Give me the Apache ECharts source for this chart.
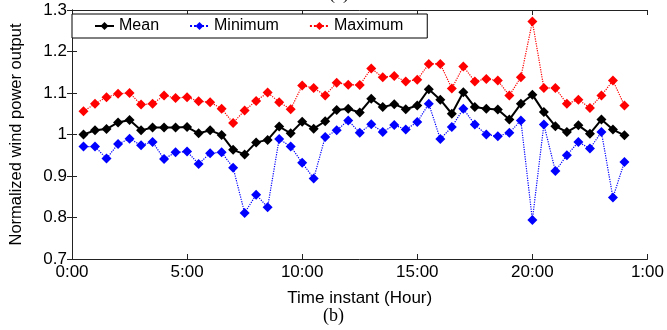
<!DOCTYPE html>
<html>
<head>
<meta charset="utf-8">
<script src="https://cdn.jsdelivr.net/npm/echarts@6/dist/echarts.min.js"></script>
<style>html,body{margin:0;padding:0;background:#fff}#c{width:667px;height:330px}</style>
</head>
<body>
<div id="c"></div>
<script>
var hours = [0.5,1,1.5,2,2.5,3,3.5,4,4.5,5,5.5,6,6.5,7,7.5,8,8.5,9,9.5,10,10.5,11,11.5,12,
             12.5,13,13.5,14,14.5,15,15.5,16,16.5,17,17.5,18,18.5,19,19.5,20,20.5,21,21.5,22,22.5,23,23.5,24];
var meanVals = [1.000,1.010,1.013,1.029,1.035,1.010,1.017,1.017,1.017,1.018,1.003,1.010,0.999,0.963,0.952,0.981,
                0.987,1.019,1.003,1.031,1.014,1.032,1.059,1.062,1.053,1.086,1.066,1.073,1.061,1.070,1.109,1.084,
                1.050,1.102,1.066,1.062,1.060,1.036,1.074,1.096,1.054,1.020,1.006,1.022,1.002,1.036,1.012,0.998];
var minVals = [0.971,0.971,0.942,0.977,0.990,0.974,0.982,0.941,0.957,0.959,0.929,0.955,0.957,0.920,0.811,0.855,
               0.825,0.989,0.971,0.932,0.894,0.994,1.010,1.034,1.004,1.025,1.006,1.023,1.012,1.030,1.074,0.989,
               1.018,1.062,1.024,1.000,0.996,1.004,1.034,0.794,1.024,0.912,0.950,0.982,0.966,1.006,0.848,0.934];
var maxVals = [1.056,1.074,1.090,1.098,1.100,1.072,1.074,1.094,1.088,1.090,1.080,1.078,1.062,1.028,1.058,1.081,
               1.101,1.078,1.061,1.118,1.112,1.094,1.125,1.120,1.119,1.159,1.138,1.141,1.128,1.132,1.170,1.170,
               1.111,1.164,1.128,1.134,1.130,1.094,1.138,1.272,1.112,1.112,1.074,1.084,1.064,1.094,1.130,1.070];
var xTickLabels = {0:'0:00',5:'5:00',10:'10:00',15:'15:00',20:'20:00',25:'1:00'};
var seriesNames = ['Mean','Minimum','Maximum'];

function pairs(v){ return hours.map(function(h,i){ return [h, v[i]]; }); }
var FONT = '"Liberation Sans", Arial, sans-serif';
var chart = echarts.init(document.getElementById('c'), null, {renderer:'canvas'});
var axisLine = {show:true, lineStyle:{color:'#222', width:1}};
var tick = {show:true, inside:true, length:5, lineStyle:{color:'#222'}};
chart.setOption({
  animation:false,
  backgroundColor:'#fff',
  grid:{left:67, right:15, top:10, bottom:71},
  title:{text:'(b)', left:'center', top:307, textStyle:{fontFamily:'"Liberation Serif","Times New Roman",serif', fontSize:18, fontWeight:'normal', color:'#000'}, padding:0},
  graphic:[{type:'text', left:329, top:-15, style:{text:'(a)', font:'18px "Liberation Serif", serif', fill:'#000'}}],
  legend:{
    data:seriesNames, left:72, top:14, orient:'horizontal',
    borderColor:'#000', borderWidth:1, backgroundColor:'#fff',
    padding:[4,24,4,22], itemGap:30, itemWidth:19, itemHeight:10,
    textStyle:{fontFamily:FONT, fontSize:16, color:'#000'}
  },
  xAxis:[{
    type:'value', min:0, max:25, interval:5,
    name:'Time instant (Hour)', nameLocation:'middle', nameGap:31,
    nameTextStyle:{fontFamily:FONT, fontSize:17, color:'#000'},
    axisLine:axisLine, axisTick:tick, splitLine:{show:false},
    axisLabel:{fontFamily:FONT, fontSize:17, color:'#000', margin:5,
      formatter:function(v){ return xTickLabels[v] !== undefined ? xTickLabels[v] : ''; }}
  },{
    type:'value', position:'top', min:0, max:25, interval:5,
    axisLine:axisLine, axisTick:tick, axisLabel:{show:false}, splitLine:{show:false}
  }],
  yAxis:[{
    type:'value', min:0.7, max:1.3, interval:0.1,
    name:'Normalized wind power output', nameLocation:'middle', nameGap:47,
    nameTextStyle:{fontFamily:FONT, fontSize:16.5, color:'#000'},
    axisLine:axisLine, axisTick:tick, splitLine:{show:false},
    axisLabel:{fontFamily:FONT, fontSize:17, color:'#000', margin:5,
      formatter:function(v){ return (Math.round(v*10)/10).toString(); }}
  },{
    type:'value', position:'right', min:0.7, max:1.3, interval:0.1,
    axisLine:axisLine, axisTick:tick, axisLabel:{show:false}, splitLine:{show:false}
  }],
  series:[
    {name:'Mean', type:'line', data:pairs(meanVals), symbol:'diamond', symbolSize:10,
     lineStyle:{color:'#000', width:2, type:'solid'}, itemStyle:{color:'#000'}, z:3},
    {name:'Minimum', type:'line', data:pairs(minVals), symbol:'diamond', symbolSize:10,
     lineStyle:{color:'#0000ff', width:1.2, type:'dotted'}, itemStyle:{color:'#0000ff'}},
    {name:'Maximum', type:'line', data:pairs(maxVals), symbol:'diamond', symbolSize:10,
     lineStyle:{color:'#ff0000', width:1.2, type:'dotted'}, itemStyle:{color:'#ff0000'}}
  ]
});
</script>
</body>
</html>
